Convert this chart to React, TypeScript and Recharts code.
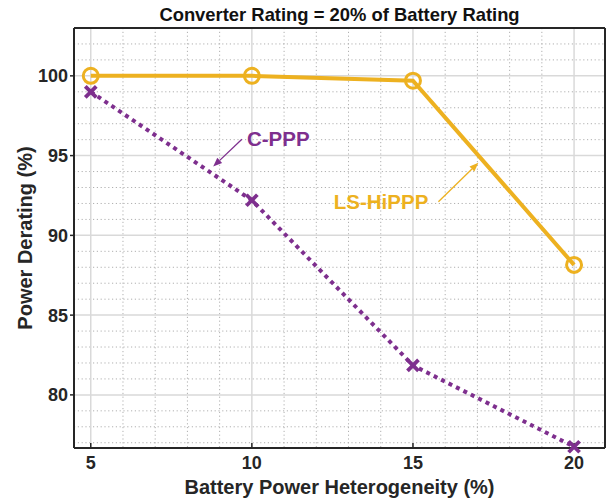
import React from "react";
import {
  CartesianGrid,
  Line,
  LineChart,
  ReferenceDot,
  ReferenceLine,
  XAxis,
  YAxis,
} from "recharts";

const heterogeneity = [5, 10, 15, 20];
const lsHippp = [100, 100, 99.7, 88.15];
const cPpp = [99, 92.2, 81.85, 76.75];

const xTicks = [5, 10, 15, 20];
const yTicks = [80, 85, 90, 95, 100];
const xMinorTicks = [6, 7, 8, 9, 11, 12, 13, 14, 16, 17, 18, 19];
const yMinorTicks = [
  77, 78, 79, 81, 82, 83, 84, 86, 87, 88, 89, 91, 92, 93, 94, 96, 97, 98, 99,
  101, 102,
];

const xDomain = [4.48, 20.96];
const yDomain = [76.67, 103];

// annotation text anchors and arrows, in data units
const cPppLabel = { x: 10.82, y: 96.08 };
const lsLabel = { x: 14.01, y: 92.15 };
const cPppArrow = [
  { x: 9.69, y: 96.03 },
  { x: 8.8, y: 94.31 },
];
const lsArrow = [
  { x: 15.79, y: 92.11 },
  { x: 17.03, y: 94.56 },
];

const ORANGE = "#EDB120";
const PURPLE = "#7E2F8E";
const INK = "#262626";
const FONT = "'Liberation Sans', Arial, sans-serif";

const data = heterogeneity.map((h, i) => ({
  h,
  ls: lsHippp[i],
  c: cPpp[i],
}));

// map a value through the axis scale, falling back to the axis domain
function toX(axis: any, offset: any, v: number) {
  if (axis && typeof axis.scale === "function") return axis.scale(v);
  return offset.left + ((v - xDomain[0]) / (xDomain[1] - xDomain[0])) * offset.width;
}
function toY(axis: any, offset: any, v: number) {
  if (axis && typeof axis.scale === "function") return axis.scale(v);
  return offset.top + ((yDomain[1] - v) / (yDomain[1] - yDomain[0])) * offset.height;
}

function CircleDot(props: any) {
  const { cx, cy } = props;
  if (cx == null || cy == null) return null;
  return (
    <circle cx={cx} cy={cy} r={7.5} fill="none" stroke={ORANGE} strokeWidth={3} />
  );
}

function CrossDot(props: any) {
  const { cx, cy } = props;
  if (cx == null || cy == null) return null;
  const s = 5.5;
  return (
    <g stroke={PURPLE} strokeWidth={3.8} strokeLinecap="butt">
      <line x1={cx - s} y1={cy - s} x2={cx + s} y2={cy + s} />
      <line x1={cx - s} y1={cy + s} x2={cx + s} y2={cy - s} />
    </g>
  );
}

function makeArrow(color: string) {
  return (props: any) => {
    const { x1, y1, x2, y2 } = props;
    if (x1 == null) return null;
    const ang = Math.atan2(y2 - y1, x2 - x1);
    const len = 9;
    const w = 3.5;
    const bx = x2 - len * Math.cos(ang);
    const by = y2 - len * Math.sin(ang);
    const px = -Math.sin(ang) * w;
    const py = Math.cos(ang) * w;
    return (
      <g>
        <line x1={x1} y1={y1} x2={bx} y2={by} stroke={color} strokeWidth={1.3} />
        <polygon
          points={`${x2},${y2} ${bx + px},${by + py} ${bx - px},${by - py}`}
          fill={color}
        />
      </g>
    );
  };
}

function makeText(text: string, color: string) {
  return (props: any) => (
    <text
      x={props.cx}
      y={props.cy}
      textAnchor="middle"
      dominantBaseline="central"
      fill={color}
      fontSize={20.5}
      fontWeight="bold"
      fontFamily={FONT}
    >
      {text}
    </text>
  );
}

const tickStyle = { fill: INK, fontSize: 18, fontWeight: "bold", fontFamily: FONT };

export default function App() {
  return (
    <div style={{ position: "absolute", left: 0, top: 0, background: "#fff" }}>
      <LineChart
        width={611}
        height={502}
        data={data}
        margin={{ top: 0, right: 0, bottom: 0, left: 0 }}
      >
        <XAxis
          xAxisId="main"
          dataKey="h"
          type="number"
          domain={xDomain}
          ticks={xTicks}
          height={54}
          axisLine={{ stroke: INK, strokeWidth: 2 }}
          tickLine={{ stroke: INK, strokeWidth: 1.5 }}
          tickSize={-5}
          tickMargin={13}
          tick={tickStyle}
          label={{
            position: "insideBottom",
            content: (p: any) => (
              <text
                x={p.viewBox.x + p.viewBox.width / 2}
                y={494}
                textAnchor="middle"
                fill={INK}
                fontSize={20}
                fontWeight="bold"
                fontFamily={FONT}
              >
                Battery Power Heterogeneity (%)
              </text>
            ),
          }}
        />
        <XAxis
          xAxisId="top"
          orientation="top"
          dataKey="h"
          type="number"
          domain={xDomain}
          ticks={xTicks}
          height={28}
          axisLine={{ stroke: INK, strokeWidth: 2 }}
          tickLine={{ stroke: INK, strokeWidth: 1.5 }}
          tickSize={-5}
          tick={false}
          label={{
            position: "insideTop",
            content: (p: any) => (
              <text
                x={p.viewBox.x + p.viewBox.width / 2}
                y={20.5}
                textAnchor="middle"
                fill="#111"
                fontSize={18.4}
                fontWeight="bold"
                fontFamily={FONT}
              >
                Converter Rating = 20% of Battery Rating
              </text>
            ),
          }}
        />
        <YAxis
          yAxisId="main"
          type="number"
          domain={yDomain}
          ticks={yTicks}
          width={74}
          axisLine={{ stroke: INK, strokeWidth: 2 }}
          tickLine={{ stroke: INK, strokeWidth: 1.5 }}
          tickSize={4}
          tickMargin={2}
          tick={tickStyle}
          label={{
            position: "insideLeft",
            content: (p: any) => {
              const cx = 25;
              const cy = p.viewBox.y + p.viewBox.height / 2;
              return (
                <text
                  x={cx}
                  y={cy}
                  transform={`rotate(-90 ${cx} ${cy})`}
                  textAnchor="middle"
                  dominantBaseline="central"
                  fill={INK}
                  fontSize={20}
                  fontWeight="bold"
                  fontFamily={FONT}
                >
                  Power Derating (%)
                </text>
              );
            },
          }}
        />
        <YAxis
          yAxisId="right"
          orientation="right"
          type="number"
          domain={yDomain}
          ticks={yTicks}
          width={6}
          axisLine={{ stroke: INK, strokeWidth: 2 }}
          tickLine={{ stroke: INK, strokeWidth: 1.5 }}
          tickSize={-5}
          tick={false}
        />

        {/* minor grid, dotted */}
        <CartesianGrid
          xAxisId="main"
          yAxisId="main"
          stroke="#b0b0b0"
          strokeWidth={1}
          strokeDasharray="1.2 2.6"
          verticalCoordinatesGenerator={({ xAxis, offset }: any) =>
            xMinorTicks.map((v) => toX(xAxis, offset, v))
          }
          horizontalCoordinatesGenerator={({ yAxis, offset }: any) =>
            yMinorTicks.map((v) => toY(yAxis, offset, v))
          }
        />
        <CartesianGrid
          xAxisId="main"
          yAxisId="main"
          stroke="#d9d9d9"
          strokeWidth={1.5}
        />

        <Line
          xAxisId="main"
          yAxisId="main"
          dataKey="c"
          stroke={PURPLE}
          strokeWidth={4}
          strokeDasharray="4 4.3"
          dot={<CrossDot />}
          activeDot={false}
          isAnimationActive={false}
        />
        <Line
          xAxisId="main"
          yAxisId="main"
          dataKey="ls"
          stroke={ORANGE}
          strokeWidth={4}
          dot={<CircleDot />}
          activeDot={false}
          isAnimationActive={false}
        />

        <ReferenceLine
          xAxisId="main"
          yAxisId="main"
          segment={cPppArrow}
          shape={makeArrow(PURPLE)}
        />
        <ReferenceLine
          xAxisId="main"
          yAxisId="main"
          segment={lsArrow}
          shape={makeArrow(ORANGE)}
        />
        <ReferenceDot
          xAxisId="main"
          yAxisId="main"
          x={cPppLabel.x}
          y={cPppLabel.y}
          r={0}
          shape={makeText("C-PPP", PURPLE)}
        />
        <ReferenceDot
          xAxisId="main"
          yAxisId="main"
          x={lsLabel.x}
          y={lsLabel.y}
          r={0}
          shape={makeText("LS-HiPPP", ORANGE)}
        />
      </LineChart>
    </div>
  );
}
